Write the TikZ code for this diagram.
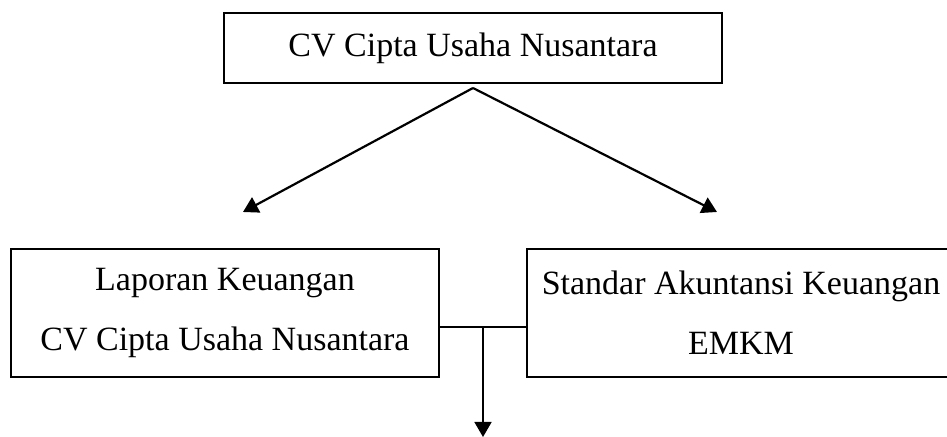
\documentclass[tikz,border=0pt]{standalone}
\usepackage{fontspec}
\setmainfont{Liberation Serif}
\usetikzlibrary{arrows.meta}

\tikzset{
    kotak/.style={draw, line width=0.8pt, inner sep=0pt, align=center,
        font=\fontsize{17}{30}\selectfont},
    panah/.style={line width=1.1pt, -{Triangle[length=7.5pt,width=8.5pt]}},
    garis/.style={line width=0.7pt}
}

\begin{document}
\begin{tikzpicture}[x=0.5pt,y=-0.5pt]
        \useasboundingbox (0,0) rectangle (947,437);

        % kotak atas
        \node[kotak, minimum width=249pt, minimum height=35pt] (cv) at (473,48) {CV Cipta Usaha Nusantara};

        % kotak bawah
        \node[kotak, minimum width=214pt, minimum height=64pt] (lap) at (225,313) {Laporan Keuangan\\CV Cipta Usaha Nusantara};
        \node[kotak, minimum width=214pt, minimum height=64pt] (sak) at (741,313) {Standar Akuntansi Keuangan\\EMKM};

        \coordinate (puncak) at (473,88);
        \coordinate (kiri) at (243,212);
        \coordinate (kanan) at (717,212);
        \coordinate (tengah) at (483,327);
        \coordinate (bawah) at (483,437);

        \draw[panah] (puncak) -- (kiri);
        \draw[panah] (puncak) -- (kanan);

        \draw[garis] (lap.east |- tengah) -- (sak.west |- tengah);
        \draw[panah, line width=0.8pt] (tengah) -- (bawah);
    \end{tikzpicture}
\end{document}
